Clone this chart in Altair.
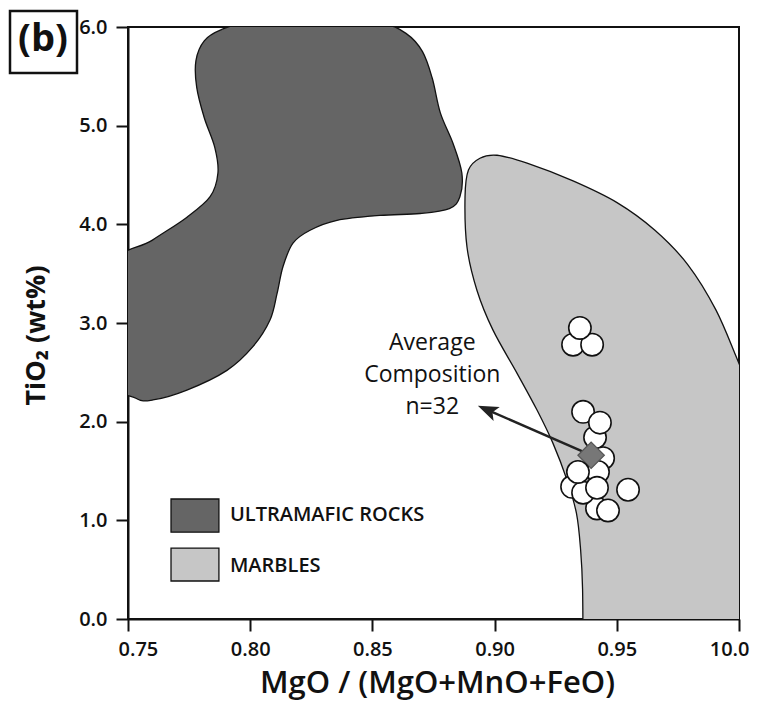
import altair as alt
import pandas as pd

# ---------------- data ----------------
x_ticks = [0.75, 0.80, 0.85, 0.90, 0.95, 1.00]
y_ticks = [0, 1, 2, 3, 4, 5, 6]

# Ultramafic rocks field outline (clipped by the frame)
ultra_x = [0.740, 0.7600, 0.7740, 0.7836, 0.7868, 0.7855, 0.7812, 0.7781, 0.7778,
           0.7812, 0.7880, 0.7980, 0.8300, 0.8540, 0.8640, 0.8705, 0.8745, 0.8778,
           0.8830, 0.8866, 0.8858, 0.8815, 0.8695, 0.8531, 0.8355, 0.8245, 0.8175,
           0.8134, 0.8110, 0.8081, 0.8011, 0.7905, 0.7741, 0.7602, 0.7530, 0.7440]
ultra_y = [3.51, 3.84, 4.07, 4.28, 4.52, 4.78, 5.08, 5.39, 5.66,
           5.86, 5.97, 6.03, 6.05, 6.03, 5.93, 5.75, 5.48, 5.13,
           4.82, 4.52, 4.28, 4.16, 4.11, 4.09, 4.04, 3.94, 3.81,
           3.57, 3.30, 3.03, 2.76, 2.52, 2.32, 2.22, 2.24, 2.45]

# Marbles field outline (clipped by the frame)
marble_x = [0.9362, 0.9362, 0.9360, 0.9352, 0.9335, 0.9296, 0.9239, 0.9173, 0.9092,
            0.8993, 0.8928, 0.8887, 0.8879, 0.8893, 0.8940, 0.9010, 0.9133, 0.9321,
            0.9501, 0.9656, 0.9791, 0.9906, 1.0000, 1.0100, 1.0300, 1.0300]
marble_y = [-1.0, -0.5, 0.30, 0.70, 1.07, 1.41, 1.78, 2.12, 2.49,
            2.93, 3.33, 3.77, 4.28, 4.55, 4.67, 4.70, 4.62, 4.44,
            4.22, 3.94, 3.59, 3.13, 2.59, 2.00, 1.00, -1.0]

# Samples drawn behind the average-composition diamond
back_x = [0.9411, 0.9444, 0.9423]
back_y = [1.84, 1.63, 1.49]
# Samples drawn in front
front_x = [0.9321, 0.9399, 0.9349, 0.9362, 0.9431, 0.9317, 0.9419, 0.9362, 0.9419,
           0.9464, 0.9546, 0.9341]
front_y = [2.78, 2.78, 2.95, 2.10, 1.99, 1.34, 1.12, 1.28, 1.33,
           1.10, 1.31, 1.49]

avg_x = [0.9395]
avg_y = [1.66]

arrow_from_x = [0.9385]
arrow_from_y = [1.67]
arrow_to_x = [0.8975]
arrow_to_y = [2.115]
head_x = [0.8970]
head_y = [2.119]

note_x = [0.8745]
note_y = [2.80]
note_text = ["Average\nComposition\nn=32"]

legend_labels = ["ULTRAMAFIC ROCKS", "MARBLES"]
legend_colors = ["#656565", "#c6c6c6"]
legend_x0 = [0.7676, 0.7676]
legend_x1 = [0.7872, 0.7872]
legend_y0 = [0.88, 0.385]
legend_y1 = [1.216, 0.719]
legend_tx = [0.7917, 0.7917]
legend_ty = [1.054, 0.537]

# ---------------- chart ----------------
xs = alt.Scale(domain=[0.75, 1.0], nice=False, zero=False)
ys = alt.Scale(domain=[0, 6], nice=False, zero=False)

x_axis = alt.Axis(values=x_ticks, grid=False, labelPadding=8,
                  labelFlush=True, labelFlushOffset=10,
                  labelExpr="datum.value == 1 ? '10.0' : format(datum.value, '.2f')",
                  title="MgO / (MgO+MnO+FeO)", titleX=309, titleY=64,
                  titleAlign="center", titleBaseline="middle",
                  titleFontSize=31, titleFontWeight=600)
y_axis = alt.Axis(values=y_ticks, grid=False, format=".1f", labelPadding=9,
                  title="TiO₂   (wt%)", titleX=-92, titleY=308, titleAngle=270,
                  titleAlign="center", titleBaseline="middle",
                  titleFontSize=27, titleFontWeight="bold")


def X(f="x"):
    return alt.X(f"{f}:Q", scale=xs, axis=x_axis)


def Y(f="y"):
    return alt.Y(f"{f}:Q", scale=ys, axis=y_axis)


ultra_df = pd.DataFrame({"x": ultra_x, "y": ultra_y, "i": range(len(ultra_x))})
marble_df = pd.DataFrame({"x": marble_x, "y": marble_y, "i": range(len(marble_x))})

ultra = alt.Chart(ultra_df).mark_line(
    interpolate="cardinal-closed", fill=legend_colors[0], stroke="#111",
    strokeWidth=1.3, clip=True
).encode(x=X(), y=Y(), order="i:Q")

marble = alt.Chart(marble_df).mark_line(
    interpolate="cardinal-closed", fill=legend_colors[1], stroke="#111",
    strokeWidth=1.3, clip=True
).encode(x=X(), y=Y(), order="i:Q")

leg_df = pd.DataFrame({"name": legend_labels, "x0": legend_x0, "x1": legend_x1,
                       "y0": legend_y0, "y1": legend_y1,
                       "tx": legend_tx, "ty": legend_ty})
leg_rect = alt.Chart(leg_df).mark_rect(stroke="#111", strokeWidth=1.3).encode(
    x=X("x0"), x2="x1:Q", y=Y("y0"), y2="y1:Q",
    fill=alt.Color("name:N", scale=alt.Scale(domain=legend_labels, range=legend_colors),
                   legend=None))
leg_text = alt.Chart(leg_df).mark_text(
    align="left", baseline="middle", font="Open Sans", fontSize=20,
    fontWeight=600, color="#111"
).encode(x=X("tx"), y=Y("ty"), text="name:N")

arrow_df = pd.DataFrame({"x": arrow_from_x, "y": arrow_from_y,
                         "x2": arrow_to_x, "y2": arrow_to_y})
arrow = alt.Chart(arrow_df).mark_rule(color="#222", strokeWidth=2.5).encode(
    x=X(), y=Y(), x2="x2:Q", y2="y2:Q")

head = alt.Chart(pd.DataFrame({"x": head_x, "y": head_y})).mark_point(
    shape="M0,-1L0.75,1L0,0.55L-0.75,1Z", filled=True, fill="#222", strokeWidth=0,
    size=420, angle=293.5, opacity=1
).encode(x=X(), y=Y())

circ_style = dict(shape="circle", filled=True, fill="white", stroke="#111",
                  strokeWidth=1.6, size=500, opacity=1)
back = alt.Chart(pd.DataFrame({"x": back_x, "y": back_y})).mark_point(
    **circ_style).encode(x=X(), y=Y())
front = alt.Chart(pd.DataFrame({"x": front_x, "y": front_y})).mark_point(
    **circ_style).encode(x=X(), y=Y())

avg = alt.Chart(pd.DataFrame({"x": avg_x, "y": avg_y})).mark_point(
    shape="diamond", filled=True, fill="#777777", stroke="#555", strokeWidth=1.2,
    size=700, opacity=1
).encode(x=X(), y=Y())

note = alt.Chart(pd.DataFrame({"x": note_x, "y": note_y, "t": note_text})).mark_text(
    lineBreak="\n", lineHeight=32, align="center", baseline="middle",
    font="Open Sans", fontSize=23, color="#111"
).encode(x=X(), y=Y(), text="t:N")

panel_df = pd.DataFrame({"label": ["(b)"]})
panel_box = alt.Chart(panel_df).mark_rect(
    fill="white", stroke="#111", strokeWidth=2.5
).encode(x=alt.value(-118), x2=alt.value(-51), y=alt.value(-16), y2=alt.value(46))
panel_text = alt.Chart(panel_df).mark_text(
    font="Open Sans", fontSize=38, fontWeight="bold", color="#111",
    align="center", baseline="middle"
).encode(x=alt.value(-85), y=alt.value(13), text="label:N")

chart = alt.layer(
    ultra, marble, leg_rect, leg_text, arrow, back, avg, front, head, note,
    panel_box, panel_text
).properties(
    width=611, height=592,
    autosize=alt.AutoSizeParams(type="none"),
    padding={"left": 120, "top": 19, "right": 12, "bottom": 84},
).configure_view(
    stroke="#111", strokeWidth=2
).configure_axis(
    domainColor="#111", domainWidth=2, tickColor="#111", tickWidth=2, tickSize=12,
    labelFont="Open Sans", labelFontSize=20, labelFontWeight=600, labelColor="#111",
    titleFont="Open Sans", titleColor="#111"
)

chart.save("out.html", embed_options={"renderer": "svg", "actions": False})
